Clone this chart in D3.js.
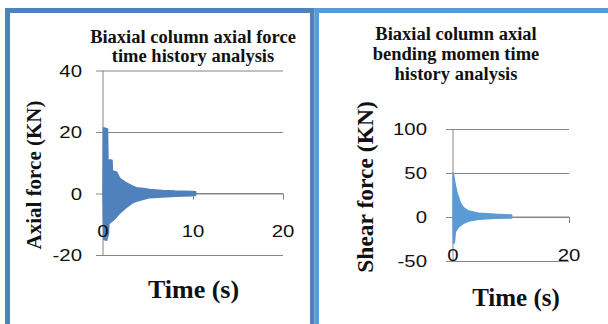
<!DOCTYPE html>
<html>
<head>
<meta charset="utf-8">
<script src="https://cdn.jsdelivr.net/npm/d3@7"></script>
<style>
  html, body { margin: 0; padding: 0; background: #fff; }
  svg { display: block; }
</style>
</head>
<body>
<svg id="chart" width="608" height="324"></svg>
<script>
// ---- Axial force response (left panel) ----
const axialTicksX = [0, 10, 20];
const axialTicksY = [-20, 0, 20, 40];
// Peak envelope of the oscillating axial force signal (time in s, force in KN)
const axialUpperTime  = [0, 0.05, 0.5, 0.55, 1.0, 1.05, 1.5, 1.9, 2.5, 3.3, 3.7, 4.5, 5.2, 6.6, 8.0, 10.0, 10.3];
const axialUpperForce = [0, 21.4, 21.0, 11.0, 10.8, 7.3, 7.0, 4.8, 3.6, 2.4, 1.9, 1.6, 1.3, 1.0, 0.8, 0.65, 0.6];
const axialLowerTime  = [0, 0.1, 0.4, 0.6, 0.65, 1.0, 1.5, 1.9, 2.55, 3.3, 3.7, 5.1, 6.6, 8.0, 10.0, 10.3];
const axialLowerForce = [0, -15.0, -15.2, -13.0, -9.8, -9.0, -7.6, -6.3, -4.6, -3.0, -2.5, -1.4, -1.1, -0.9, -0.7, -0.6];

// ---- Shear force response (right panel) ----
const shearTicksX = [0, 20];
const shearTicksY = [-50, 0, 50, 100];
const shearUpperTime  = [0, 0.05, 0.2, 0.4, 0.7, 1.0, 1.26, 1.8, 2.7, 4.4, 7.3, 10.1];
const shearUpperForce = [0, 49.6, 44, 36, 27, 21.6, 16, 10.6, 6.8, 4.2, 3.0, 2.3];
const shearLowerTime  = [0, 0.1, 0.25, 0.4, 1.0, 1.8, 2.7, 4.4, 7.3, 10.1];
const shearLowerForce = [0, -30, -28, -17, -11, -7.2, -4.5, -2.7, -1.5, -1.2];

const svg = d3.select("#chart");
const gridColor = "#868686";
const serif = "'Liberation Serif', 'Times New Roman', serif";
const sans = "'Liberation Sans', Arial, sans-serif";

// Panel frames
svg.append("rect").attr("x", 5).attr("y", 8).attr("width", 305).attr("height", 5).attr("fill", "#4F81BD");
svg.append("rect").attr("x", 5).attr("y", 8).attr("width", 5).attr("height", 316).attr("fill", "#4F81BD");
svg.append("rect").attr("x", 310).attr("y", 8).attr("width", 4.5).attr("height", 316).attr("fill", "#4F81BD");
svg.append("rect").attr("x", 314.5).attr("y", 8).attr("width", 293.5).attr("height", 5).attr("fill", "#5B9BD5");
svg.append("rect").attr("x", 314.5).attr("y", 8).attr("width", 4.5).attr("height", 316).attr("fill", "#5B9BD5");

function drawPanel(c) {
  const x = d3.scaleLinear().domain([0, 20]).range(c.xRange);
  const y = d3.scaleLinear().domain(c.yDomain).range(c.yRange);
  const g = svg.append("g");

  // horizontal gridlines, extending left of the axis as tick marks
  const grid = g.append("g")
    .attr("transform", `translate(${c.xRange[1]},0)`)
    .call(d3.axisLeft(y).tickValues(c.ticksY).tickSize(c.xRange[1] - c.xRange[0] + 7).tickFormat(""));
  grid.select(".domain").remove();
  grid.selectAll("line").attr("stroke", gridColor).attr("stroke-width", 1);

  // vertical axis at t = 0
  g.append("line")
    .attr("x1", x(0)).attr("x2", x(0))
    .attr("y1", y(c.yDomain[1])).attr("y2", y(c.yDomain[0]))
    .attr("stroke", gridColor).attr("stroke-width", 1);

  // horizontal axis at force = 0 with downward ticks
  const xAxis = g.append("g")
    .attr("transform", `translate(0,${y(0)})`)
    .call(d3.axisBottom(x).tickValues(c.ticksX).tickSize(6).tickFormat(""));
  xAxis.select(".domain").attr("stroke", gridColor).attr("d", `M${c.xRange[0]},0H${c.xRange[1]}`);
  xAxis.selectAll("line").attr("stroke", gridColor);

  // response envelope, filled between the upper and lower peaks
  const pts = c.upperT.map((t, i) => [x(t), y(c.upperV[i])])
    .concat(c.lowerT.map((t, i) => [x(t), y(c.lowerV[i])]).reverse());
  g.append("path")
    .attr("d", d3.line()(pts) + "Z")
    .attr("fill", c.color).attr("stroke", c.color).attr("stroke-width", 1.5)
    .attr("stroke-linejoin", "round");

  // y tick labels
  g.selectAll(".ylab").data(c.ticksY).join("text")
    .attr("transform", d => `translate(${c.yLabelX},${y(d)}) scale(1.2,1)`)
    .attr("text-anchor", "end").attr("dy", "0.36em")
    .attr("font-family", sans).attr("font-size", 17).attr("fill", "#111")
    .text(d => d);

  // x tick labels
  g.selectAll(".xlab").data(c.ticksX).join("text")
    .attr("transform", d => `translate(${x(d)},${c.xLabelY}) scale(1.2,1)`)
    .attr("text-anchor", "middle")
    .attr("font-family", sans).attr("font-size", 17).attr("fill", "#111")
    .text(d => d);

  // title
  const title = g.append("text")
    .attr("font-family", serif).attr("font-weight", "bold").attr("font-size", c.titleSize)
    .attr("text-anchor", "middle").attr("fill", "#111");
  c.title.forEach((line, i) => {
    title.append("tspan").attr("x", c.titleX).attr("y", c.titleY + i * c.titleStep).text(line);
  });

  // axis titles
  g.append("text")
    .attr("transform", `translate(${c.yTitleX},${c.yTitleY}) rotate(-90)`)
    .attr("text-anchor", "middle")
    .attr("font-family", serif).attr("font-weight", "bold").attr("font-size", c.yTitleSize).attr("fill", "#111")
    .text(c.yTitle);
  g.append("text")
    .attr("x", c.xTitleX).attr("y", c.xTitleY)
    .attr("text-anchor", "middle")
    .attr("font-family", serif).attr("font-weight", "bold").attr("font-size", c.xTitleSize).attr("fill", "#111")
    .text("Time (s)");
}

drawPanel({
  xRange: [103, 283], yDomain: [-20, 40], yRange: [255, 70.5],
  ticksX: axialTicksX, ticksY: axialTicksY,
  upperT: axialUpperTime, upperV: axialUpperForce,
  lowerT: axialLowerTime, lowerV: axialLowerForce,
  color: "#4F81BD",
  yLabelX: 82, xLabelY: 237,
  title: ["Biaxial column axial force", "time history analysis"],
  titleX: 193, titleY: 43, titleStep: 19, titleSize: 18.5,
  yTitle: "Axial force (KN)", yTitleX: 41, yTitleY: 175, yTitleSize: 21,
  xTitleX: 193.5, xTitleY: 298, xTitleSize: 26
});

drawPanel({
  xRange: [453, 569], yDomain: [-50, 100], yRange: [261, 129],
  ticksX: shearTicksX, ticksY: shearTicksY,
  upperT: shearUpperTime, upperV: shearUpperForce,
  lowerT: shearLowerTime, lowerV: shearLowerForce,
  color: "#5B9BD5",
  yLabelX: 427, xLabelY: 261,
  title: ["Biaxial column axial", "bending momen time", "history analysis"],
  titleX: 456, titleY: 40, titleStep: 20, titleSize: 18.5,
  yTitle: "Shear force (KN)", yTitleX: 373, yTitleY: 187, yTitleSize: 23.5,
  xTitleX: 516, xTitleY: 306, xTitleSize: 25
});
</script>
</body>
</html>
